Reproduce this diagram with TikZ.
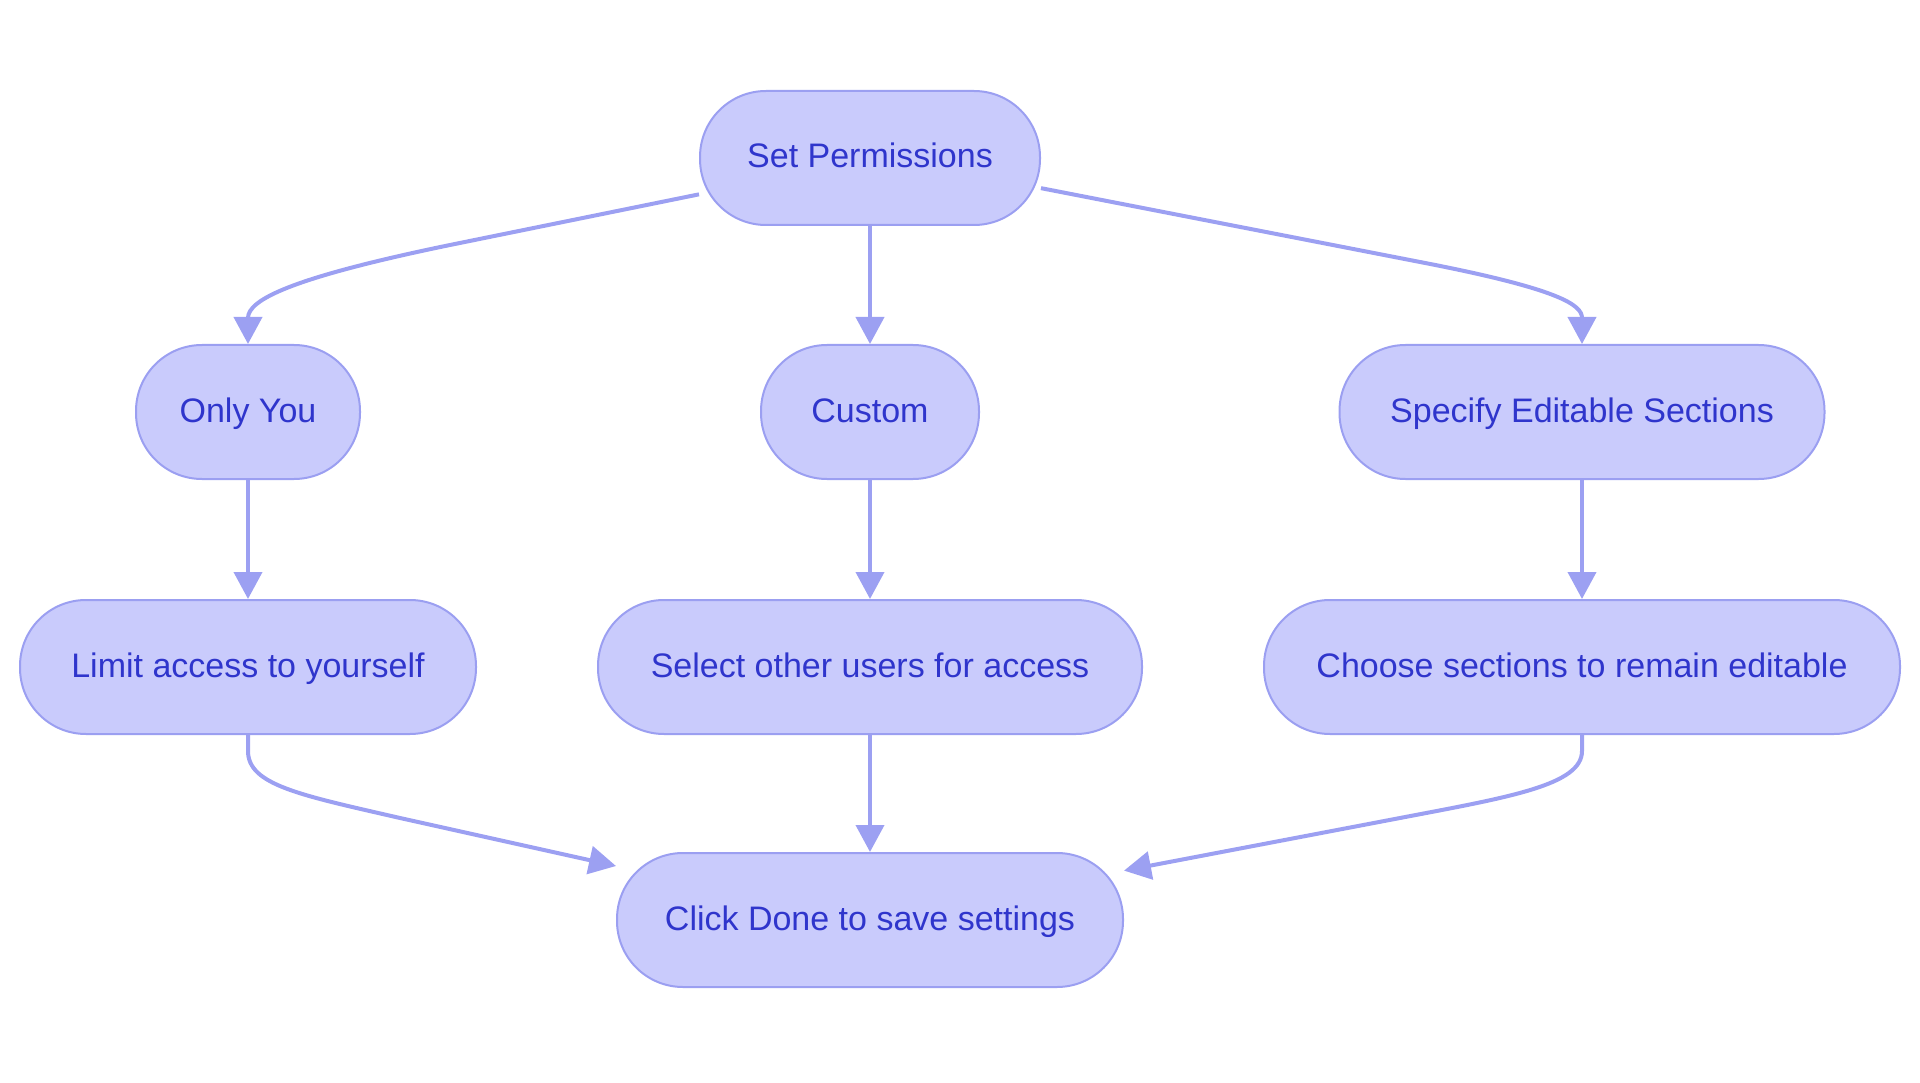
\documentclass[tikz,border=0pt]{standalone}
\usepackage{fontspec}
\setmainfont{Liberation Sans}
\usetikzlibrary{arrows.meta}
\definecolor{nodefill}{HTML}{C9CBFC}
\definecolor{nodeline}{HTML}{9B9FF1}
\definecolor{nodetext}{HTML}{2F35CC}
\definecolor{edgecol}{HTML}{9CA0F2}
\begin{document}
\begin{tikzpicture}[x=1pt,y=-1pt,
  box/.style={draw=nodeline, line width=2pt, fill=nodefill, rounded corners=66pt,
    minimum height=134pt, inner sep=0pt, text=nodetext, text height=26pt, text depth=6pt,
    font=\fontsize{34}{40}\selectfont},
  conn/.style={draw=edgecol, line width=4pt, -{Triangle[length=27pt,width=28pt]}}]
\useasboundingbox (0,0) rectangle (1920,1083);
\node[box, minimum width=340pt] (sp) at (870,158) {Set Permissions};
\node[box, minimum width=224pt] (oy) at (248,412) {Only You};
\node[box, minimum width=218pt] (cu) at (870,412) {Custom};
\node[box, minimum width=485pt] (se) at (1582,412) {Specify Editable Sections};
\node[box, minimum width=456pt] (la) at (248,667) {Limit access to yourself};
\node[box, minimum width=544pt] (so) at (870,667) {Select other users for access};
\node[box, minimum width=636pt] (cs) at (1582,667) {Choose sections to remain editable};
\node[box, minimum width=506pt] (cd) at (870,920) {Click Done to save settings};

\draw[conn] (sp.192) -- (450,245) .. controls (290,278) and (248,300) .. (oy.north);
\draw[conn] (sp.350) -- (1420,262) .. controls (1560,289) and (1582,305) .. (se.north);
\draw[conn] (sp.south) -- (cu.north);
\draw[conn] (oy.south) -- (la.north);
\draw[conn] (cu.south) -- (so.north);
\draw[conn] (se.south) -- (cs.north);
\draw[conn] (so.south) -- (cd.north);
\draw[conn] (la.south) -- ++(0,16) .. controls (248,785) and (300,795) .. (400,818) -- (cd.168);
\draw[conn] (cs.south) -- ++(0,16) .. controls (1582,785) and (1510,797) .. (1400,818) -- (cd.11);
\end{tikzpicture}
\end{document}
